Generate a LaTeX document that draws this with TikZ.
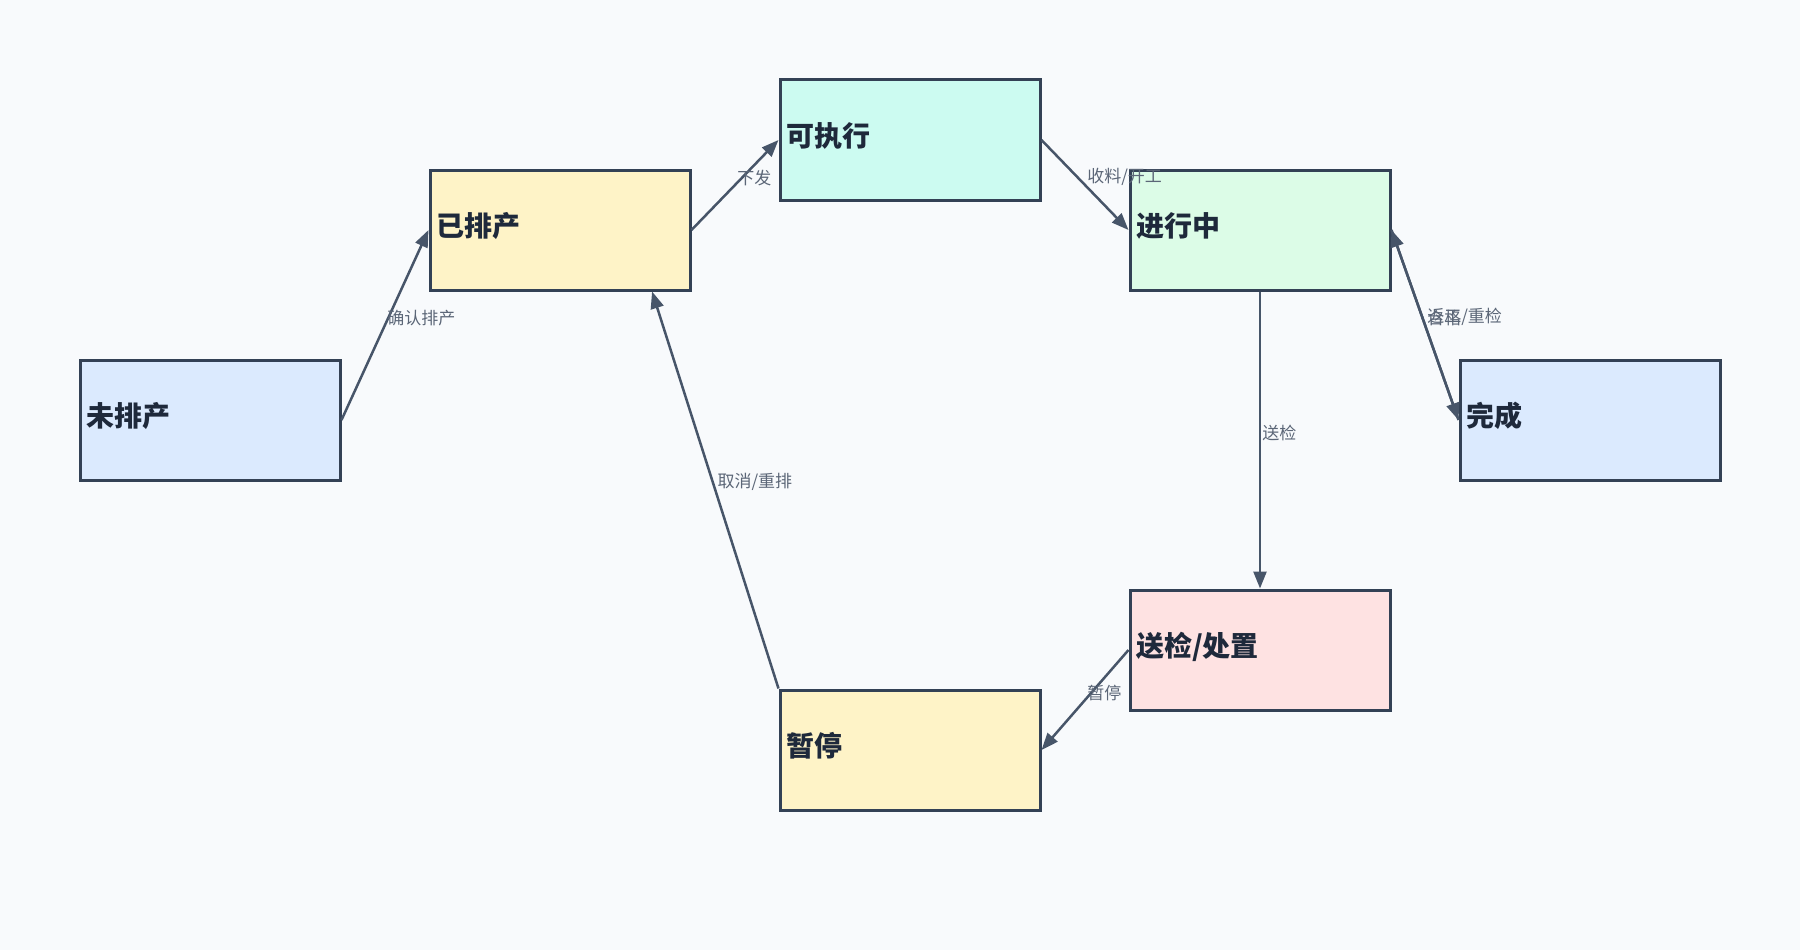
\documentclass[tikz,border=0pt]{standalone}
\usepackage{fontspec}
\setmainfont{Noto Sans CJK SC}
\usetikzlibrary{arrows.meta,calc}

\definecolor{bg}{HTML}{F8FAFC}
\definecolor{boxline}{HTML}{334155}
\definecolor{boxtext}{HTML}{1E293B}
\definecolor{edgeline}{HTML}{475569}
\definecolor{edgetext}{HTML}{5B6677}
\definecolor{blueish}{HTML}{DBEAFE}
\definecolor{amberish}{HTML}{FEF3C7}
\definecolor{tealish}{HTML}{CCFBF1}
\definecolor{greenish}{HTML}{DCFCE7}
\definecolor{redish}{HTML}{FEE2E2}

\tikzstyle{state}=[rectangle,draw=boxline,line width=3pt,minimum width=260pt,minimum height=120pt,text width=248pt,align=left,inner xsep=6pt,text height=25pt,text depth=13pt,text=boxtext,font=\fontsize{28}{30}\selectfont\bfseries]
\tikzstyle{trans}=[draw=edgeline,line width=2.5pt,-{Triangle[length=17pt,width=13pt]}]
\tikzstyle{tlabel}=[anchor=south west,inner sep=1pt,yshift=-3pt,text=edgetext,font=\fontsize{17}{19}\selectfont]

\begin{document}
\begin{tikzpicture}[x=1pt,y=-1pt]
            \fill[bg] (0,0) rectangle (1800,950);
            \node (wp) at (210,420) [state,fill=blueish] {未排产};
            \node (yp) at (560,230) [state,fill=amberish] {已排产};
            \node (kz) at (910,140) [state,fill=tealish] {可执行};
            \node (jx) at (1260,230) [state,fill=greenish] {进行中};
            \node (wc) at (1590,420) [state,fill=blueish] {完成};
            \node (sj) at (1260,650) [state,fill=redish] {送检/处置};
            \node (zt) at (910,750) [state,fill=amberish] {暂停};
            \draw[trans] (wp.east) -- node[tlabel] {确认排产} (yp.west);
            \draw[trans] (yp.east) -- node[tlabel] {下发} (kz.west);
            \draw[trans] (kz.east) -- node[tlabel] {收料/开工} (jx.west);
            \draw[trans] (jx.south) -- node[tlabel] {送检} (sj.north);
            \draw[trans] (jx.east) -- node[tlabel] {合格} (wc.west);
            \draw[trans] (wc.west) -- node[tlabel] {返工/重检} (jx.east);
            \draw[trans] (sj.west) -- node[tlabel] {暂停} (zt.east);
            \draw[trans] (zt.north west) -- node[tlabel] {取消/重排} ($(yp.south west)!0.85!(yp.south east)$);
        \end{tikzpicture}
\end{document}
